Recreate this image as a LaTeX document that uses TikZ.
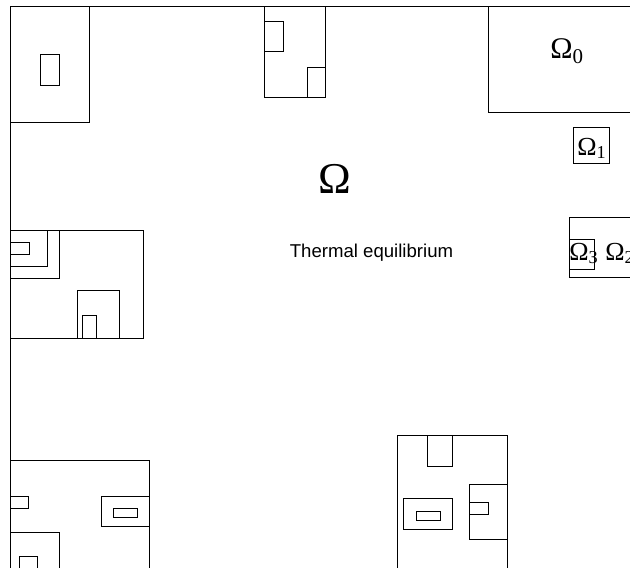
\documentclass[tikz,border=0pt]{standalone}
\usepackage{fontspec}
\setmainfont{Liberation Serif}
\newfontfamily\labelsans{Liberation Sans}
\begin{document}
\begin{tikzpicture}[x=1pt, y=-1pt, line width=0.8pt,
    domlabel/.style={anchor=base west, inner sep=0pt, font=\fontsize{26}{28}\selectfont}]
\useasboundingbox (0,0) rectangle (630,568);

% Outer domain
\draw (10,568) -- (10,6) -- (630,6);

% Top-left cell
\draw (10,6) rectangle (89,122);
\draw (40,54) rectangle (59,85);

% Top-middle cell
\draw (264,6) rectangle (325,97);
\draw (264,21) rectangle (283,51);
\draw (307,67) rectangle (325,97);

% Top-right cell (Omega_0) and Omega_1
\draw (630,112) -- (488,112) -- (488,6);
\node[domlabel, font=\fontsize{30}{32}\selectfont] (om0) at (550,58) {Ω\textsubscript{0}};
\draw (573,127) rectangle (609,163);
\node[domlabel] (om1) at (577,155) {Ω\textsubscript{1}};

% Right cell (Omega_2, Omega_3)
\draw (630,217) -- (569,217) -- (569,277) -- (630,277);
\draw (569,239) rectangle (594,269);
\node[domlabel] (om3) at (569,260) {Ω\textsubscript{3}};
\node[domlabel] (om2) at (605,260) {Ω\textsubscript{2}};

% Main labels
\node[anchor=base, inner sep=0pt, font=\fontsize{44}{46}\selectfont] (om) at (335,193) {Ω};
\node[anchor=base, inner sep=0pt, font=\labelsans\fontsize{18.6}{20}\selectfont] (eq) at (371.5,257) {Thermal equilibrium};

% Left-middle cell
\draw (10,230) rectangle (143,338);
\draw (10,278) -- (59,278) -- (59,230);
\draw (10,266) -- (47,266) -- (47,230);
\draw (10,242) rectangle (29,254);
\draw (77,338) -- (77,290) -- (119,290) -- (119,338);
\draw (82,338) -- (82,315) -- (96,315) -- (96,338);

% Bottom-left cell
\draw (10,460) -- (149,460) -- (149,568);
\draw (10,496) rectangle (28,508);
\draw (101,496) rectangle (149,526);
\draw (113,508) rectangle (137,517);
\draw (10,532) -- (59,532) -- (59,568);
\draw (19,568) -- (19,556) -- (37,556) -- (37,568);

% Bottom-middle cell
\draw (397,568) -- (397,435) -- (507,435) -- (507,568);
\draw (427,435) rectangle (452,466);
\draw (403,498) rectangle (452,529);
\draw (416,511) rectangle (440,520);
\draw (469,484) rectangle (507,539);
\draw (469,502) rectangle (488,514);

\end{tikzpicture}
\end{document}
